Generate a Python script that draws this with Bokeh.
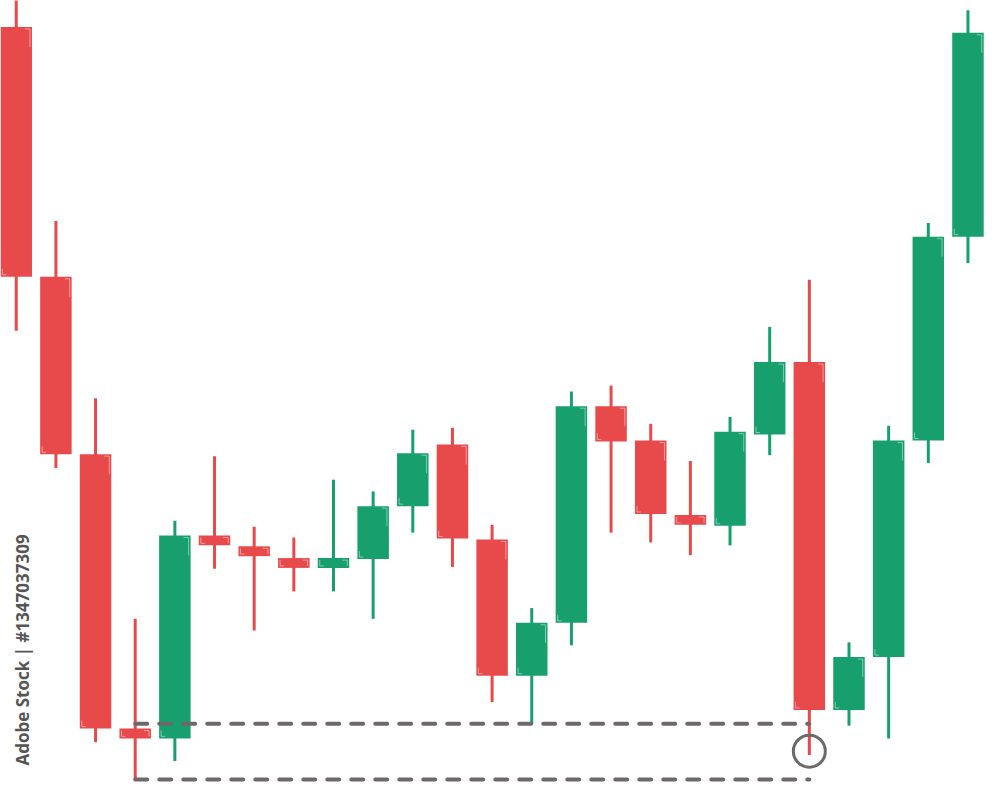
import math
from bokeh.plotting import figure
from bokeh.models import ColumnDataSource, Range1d, Label
from bokeh.embed import file_html
from bokeh.resources import INLINE

# OHLC values (arbitrary price units)
opens  = [77.1, 51.6, 33.5, 5.5, 4.5, 25.2, 24.1, 22.9, 21.9, 22.8, 28.2, 34.5, 24.8,
          10.9, 16.3, 38.4, 34.9, 27.3, 26.2, 35.5, 42.9, 7.4, 12.8, 34.9, 55.7]
closes = [51.6, 33.5, 5.5, 4.5, 25.2, 24.2, 23.1, 21.9, 22.9, 28.2, 33.6, 24.9, 10.9,
          16.3, 38.4, 34.8, 27.4, 26.3, 35.8, 42.9, 7.4, 12.8, 34.9, 55.7, 76.5]
highs  = [81.0, 57.3, 39.2, 16.7, 26.7, 33.3, 26.1, 25.0, 30.9, 29.7, 36.0, 36.2, 26.3,
          17.8, 39.9, 40.5, 36.6, 32.8, 37.3, 46.5, 51.3, 14.3, 36.4, 57.1, 78.8]
lows   = [46.1, 32.1, 4.1, 0.3, 2.2, 21.8, 15.5, 19.5, 19.5, 16.7, 25.5, 22.0, 8.2,
          6.0, 14.0, 25.5, 24.5, 23.2, 24.2, 33.4, 2.8, 5.8, 4.5, 32.6, 53.0]

support_levels = [6.0, 0.3]   # dashed levels
level_start, level_end = 3, 20
marked_candle, marked_price = 20, 3.2

RED = "#E84A4B"
GREEN = "#17A06E"
GRAY = "#6E6868"

n = len(opens)
idx = list(range(n))
colors = [GREEN if c > o else RED for o, c in zip(opens, closes)]
tops = [max(o, c) for o, c in zip(opens, closes)]
bots = [min(o, c) for o, c in zip(opens, closes)]

src = ColumnDataSource(dict(x=idx, top=tops, bottom=bots, high=highs, low=lows, color=colors))

W, H = 984, 782
p = figure(width=W, height=H, output_backend="svg", toolbar_location=None,
           x_range=Range1d(-0.397, 24.417), y_range=Range1d(0, 79.8),
           min_border=0, outline_line_color=None)
p.axis.visible = False
p.grid.visible = False
p.background_fill_color = "white"

# wicks
p.segment(x0="x", x1="x", y0="low", y1="high", color="color", line_width=3, source=src)
# bodies
p.vbar(x="x", width=0.794, top="top", bottom="bottom", fill_color="color",
       line_color="color", line_width=0, source=src)

# corner highlights (from data, screen-sized offsets)
bw = 0.794
px_x = 24.814 / W   # data units per px (x)
px_y = 79.8 / H
hx, hy = [], []
for i in idx:
    r = i + bw / 2 - 2 * px_x
    l = i - bw / 2 + 2 * px_x
    t = tops[i] - 2 * px_y
    b = bots[i] + 2 * px_y
    vlen = min(18 * px_y, (tops[i] - bots[i]) * 0.6)
    hx.append([r - 5 * px_x, r, r]); hy.append([t, t, t - vlen])
    vlen2 = min(6 * px_y, (tops[i] - bots[i]) * 0.6)
    hx.append([l, l, l + 4 * px_x]); hy.append([b + vlen2, b, b])
p.multi_line(xs=hx, ys=hy, line_color="white", line_alpha=0.45, line_width=1)

# dashed support lines
for lvl in support_levels:
    p.line(x=[level_start, level_end], y=[lvl, lvl], line_color=GRAY, line_width=4,
           line_dash="12 12", line_cap="round")

# circle marker
p.scatter(x=[marked_candle], y=[marked_price], marker="circle", size=32,
          fill_alpha=0, line_color=GRAY, line_width=3)

# watermark credit
p.add_layout(Label(x=22, y=17, x_units="screen", y_units="screen",
                   text="Adobe Stock | #1347037309", angle=math.pi / 2,
                   text_font="Open Sans", text_font_size="17px", text_font_style="bold",
                   text_color="#555555", text_baseline="middle"))

open("out.html", "w").write(file_html(p, INLINE))
